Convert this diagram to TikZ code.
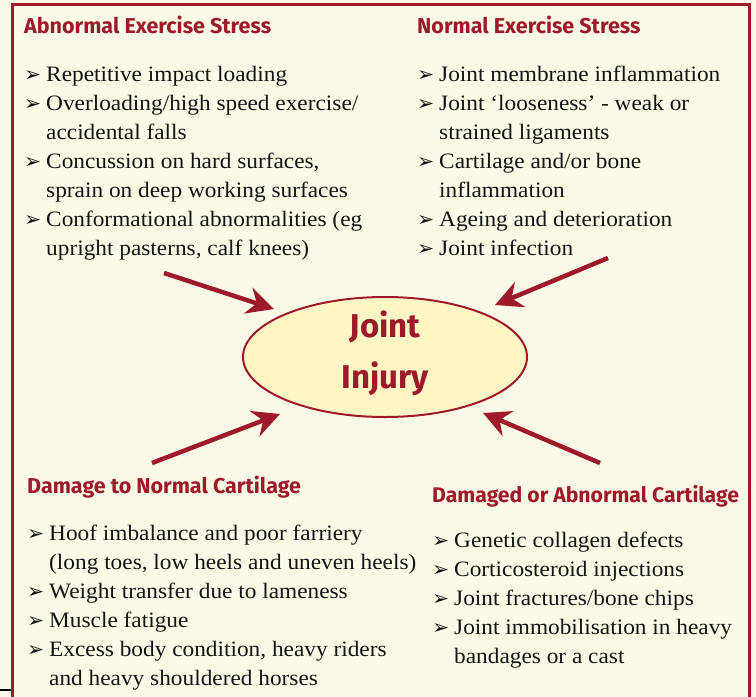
\documentclass[tikz,border=0pt]{standalone}
\usepackage{fontspec}
\setmainfont{Liberation Serif}[FakeStretch=1.06]
\newfontfamily\headfont{Fira Sans}[BoldFont={Fira Sans Bold}]
\newfontfamily\bulfont{DejaVu Sans}
\usetikzlibrary{arrows.meta,shapes.geometric}
\definecolor{frame}{HTML}{9E1A2A}
\definecolor{bg}{HTML}{FCFAE6}
\definecolor{ellfill}{HTML}{FFF6C6}
\definecolor{txt}{HTML}{141414}
\newcommand{\bl}{\makebox[22pt][l]{\bulfont\fontsize{20.5}{20}\selectfont ➢}}
\newcommand{\ind}{\hspace*{22pt}}
\tikzset{
  head/.style={anchor=base west, inner sep=0pt, text=frame, font=\headfont\bfseries\fontsize{21.5}{25}\selectfont},
  list/.style={anchor=base west, inner sep=0pt, align=left, text=txt, font=\fontsize{22}{29}\selectfont},
  arr/.style={draw=frame, line width=4.5pt, -{Stealth[length=27pt,width=27pt,inset=9pt]}},
}
\begin{document}
\begin{tikzpicture}[x=1pt,y=-1pt]
\fill[bg] (0,0) rectangle (756,697);
\useasboundingbox (0,0) rectangle (756,697);
\draw[frame, line width=3pt] (12,700) -- (12,4) -- (749,4) -- (749,700);
\draw[black, line width=1.5pt] (0,690) -- (11,690);

\node[head] (h1) at (24,33) {Abnormal Exercise Stress};
\node[list] (l1) at (24,255) {\bl Repetitive impact loading\\
\bl Overloading/high speed exercise/\\
\ind accidental falls\\
\bl Concussion on hard surfaces,\\
\ind sprain on deep working surfaces\\
\bl Conformational abnormalities (eg\\
\ind upright pasterns, calf knees)};

\node[head] (h2) at (417,33) {Normal Exercise Stress};
\node[list] (l2) at (417,255) {\bl Joint membrane inflammation\\
\bl Joint ‘looseness’ - weak or\\
\ind strained ligaments\\
\bl Cartilage and/or bone\\
\ind inflammation\\
\bl Ageing and deterioration\\
\bl Joint infection};

\node[draw=frame, fill=ellfill, line width=2pt, ellipse, minimum width=284pt, minimum height=120pt] (ell) at (385,357) {};
\node[text=frame, font=\headfont\bfseries\fontsize{33}{51}\selectfont, align=center] (jt) at (385,353) {Joint\\Injury};

\node[head] (h3) at (27,493) {Damage to Normal Cartilage};
\node[list] (l3) at (27,685) {\bl Hoof imbalance and poor farriery\\
\ind (long toes, low heels and uneven heels)\\
\bl Weight transfer due to lameness\\
\bl Muscle fatigue\\
\bl Excess body condition, heavy riders\\
\ind and heavy shouldered horses};

\node[head, font=\headfont\bfseries\fontsize{21.2}{25}\selectfont] (h4) at (432,502) {Damaged or Abnormal Cartilage};
\node[list] (l4) at (432,663) {\bl Genetic collagen defects\\
\bl Corticosteroid injections\\
\bl Joint fractures/bone chips\\
\bl Joint immobilisation in heavy\\
\ind bandages or a cast};

\coordinate (a1) at (164,273);
\coordinate (a2) at (608,258);
\coordinate (a3) at (152,463);
\coordinate (a4) at (600,463);
\coordinate (t1) at (274,309);
\coordinate (t2) at (495,305);
\coordinate (t3) at (280,414);
\coordinate (t4) at (483,413);
\draw[arr] (a1) -- (t1);
\draw[arr] (a2) -- (t2);
\draw[arr] (a3) -- (t3);
\draw[arr] (a4) -- (t4);
\end{tikzpicture}
\end{document}
